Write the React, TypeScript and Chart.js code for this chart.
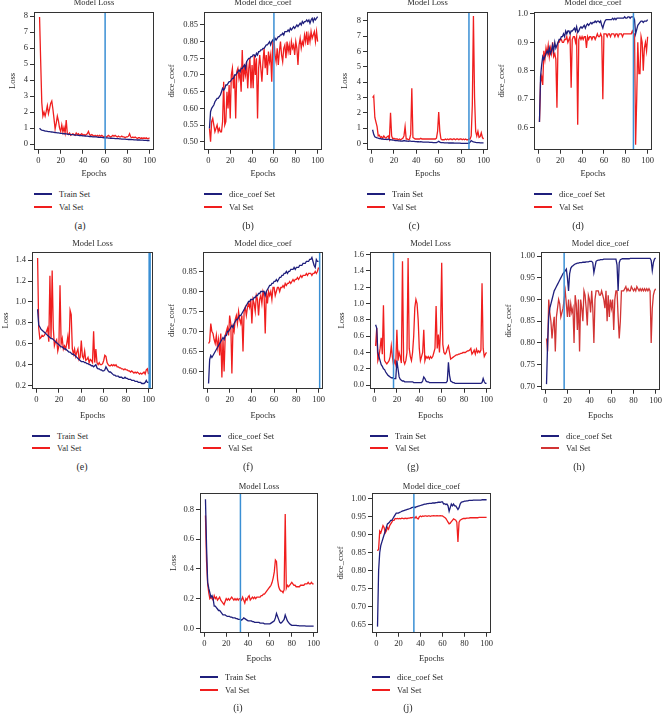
import React, { useEffect, useRef } from "react";
import { Chart, registerables } from "chart.js";

Chart.register(...registerables);

// ---------- data ----------
const epochs: number[] = Array.from({ length: 100 }, (_, i) => i + 1);
const xTicks = [0, 20, 40, 60, 80, 100];

const aTrain = [1.00,0.92,0.88,0.86,0.84,0.82,0.81,0.80,0.79,0.78, 0.77,0.76,0.75,0.74,0.73,0.72,0.71,0.70,0.69,0.68, 0.67,0.66,0.65,0.65,0.64,0.63,0.62,0.61,0.60,0.60, 0.59,0.58,0.57,0.57,0.56,0.55,0.54,0.54,0.53,0.52, 0.52,0.51,0.50,0.50,0.49,0.48,0.48,0.47,0.46,0.46, 0.45,0.45,0.44,0.43,0.43,0.42,0.42,0.41,0.40,0.40, 0.39,0.39,0.38,0.38,0.37,0.37,0.36,0.36,0.35,0.35, 0.34,0.34,0.33,0.33,0.32,0.32,0.31,0.31,0.30,0.30, 0.29,0.29,0.29,0.28,0.28,0.27,0.27,0.27,0.26,0.26, 0.26,0.25,0.25,0.25,0.24,0.24,0.24,0.23,0.23,0.23];
const aVal = [7.95,5.2,2.6,1.75,2.0,1.75,2.05,2.4,1.9,2.2, 2.55,2.7,2.2,1.6,0.95,1.3,1.75,1.45,1.0,0.8, 1.2,0.75,1.05,0.7,1.5,0.65,0.6,0.7,0.55,0.6, 0.65,0.6,0.55,0.7,0.6,0.65,0.55,0.6,0.65,0.55, 0.6,0.55,0.6,0.65,0.8,0.6,0.55,0.6,0.55,0.5, 0.55,0.5,0.55,0.5,0.55,0.5,0.55,0.5,0.45,0.5, 0.45,0.5,0.55,0.5,0.45,0.5,0.55,0.5,0.55,0.5, 0.45,0.5,0.45,0.45,0.5,0.45,0.45,0.4,0.45,0.45, 0.5,0.65,0.45,0.4,0.45,0.4,0.45,0.4,0.35,0.4, 0.4,0.35,0.4,0.35,0.4,0.35,0.4,0.35,0.35,0.4];

const bTrain = [0.54,0.59,0.60,0.605,0.61,0.62,0.625,0.63,0.63,0.635, 0.64,0.65,0.66,0.655,0.66,0.67,0.67,0.675,0.68,0.68, 0.685,0.69,0.69,0.70,0.70,0.705,0.71,0.715,0.71,0.72, 0.72,0.725,0.73,0.72,0.74,0.745,0.75,0.75,0.755,0.755, 0.76,0.76,0.755,0.765,0.76,0.77,0.77,0.775,0.775,0.78, 0.78,0.785,0.79,0.79,0.795,0.80,0.79,0.80,0.805,0.80, 0.81,0.805,0.81,0.815,0.815,0.82,0.82,0.825,0.82,0.83, 0.83,0.83,0.835,0.83,0.84,0.835,0.84,0.845,0.84,0.845, 0.85,0.845,0.85,0.855,0.85,0.86,0.855,0.86,0.86,0.865, 0.86,0.865,0.855,0.865,0.87,0.86,0.87,0.865,0.87,0.875];
const bVal = [0.54,0.50,0.56,0.57,0.55,0.53,0.54,0.55,0.53,0.54, 0.53,0.53,0.56,0.68,0.55,0.56,0.65,0.60,0.67,0.57, 0.70,0.72,0.66,0.70,0.57,0.71,0.72,0.69,0.71,0.65, 0.775,0.68,0.72,0.70,0.74,0.66,0.72,0.75,0.66,0.73, 0.66,0.76,0.70,0.75,0.57,0.72,0.76,0.72,0.68,0.74, 0.78,0.72,0.76,0.70,0.77,0.74,0.76,0.68,0.80,0.81, 0.76,0.74,0.78,0.73,0.77,0.80,0.76,0.74,0.78,0.79, 0.75,0.80,0.77,0.79,0.76,0.80,0.78,0.79,0.76,0.80, 0.78,0.73,0.79,0.81,0.78,0.80,0.79,0.82,0.80,0.83, 0.79,0.82,0.80,0.83,0.81,0.82,0.83,0.80,0.83,0.80];

const cTrain = [0.9,0.6,0.45,0.4,0.38,0.35,0.33,0.32,0.3,0.3, 0.28,0.28,0.27,0.26,0.3,0.25,0.25,0.24,0.22,0.22, 0.2,0.2,0.19,0.18,0.18,0.17,0.16,0.17,0.2,0.18, 0.17,0.16,0.15,0.18,0.16,0.15,0.14,0.14,0.13,0.13, 0.12,0.12,0.11,0.12,0.11,0.1,0.1,0.1,0.09,0.09, 0.09,0.08,0.08,0.08,0.07,0.07,0.07,0.06,0.1,0.15, 0.1,0.07,0.06,0.06,0.05,0.05,0.05,0.05,0.04,0.04, 0.04,0.04,0.04,0.03,0.03,0.03,0.03,0.03,0.03,0.02, 0.02,0.02,0.02,0.02,0.02,0.02,0.02,0.1,0.2,0.15, 0.12,0.1,0.08,0.07,0.06,0.06,0.05,0.05,0.05,0.05];
const cVal = [3.0,3.1,1.7,1.4,1.1,0.5,0.55,0.4,0.45,0.35, 0.5,0.4,0.35,0.45,0.5,0.3,2.0,0.5,0.3,0.35, 0.3,0.3,0.3,0.25,0.3,0.25,0.3,0.35,0.5,1.1, 0.3,0.3,0.25,0.3,0.6,3.6,0.4,0.35,0.3,0.3, 0.3,0.3,0.3,0.35,0.3,0.3,0.3,0.3,0.3,0.3, 0.3,0.3,0.3,0.3,0.3,0.3,0.3,0.35,0.8,2.05, 0.8,0.3,0.25,0.25,0.25,0.3,0.25,0.3,0.25,0.3, 0.3,0.25,0.3,0.3,0.25,0.3,0.3,0.25,0.3,0.3, 0.25,0.3,0.25,0.3,0.25,0.25,0.3,0.3,0.5,2.5, 8.3,3.0,0.8,0.5,0.8,0.4,0.45,0.7,0.4,0.3];

const dTrain = [0.62,0.78,0.82,0.85,0.84,0.85,0.86,0.87,0.86,0.88, 0.86,0.87,0.89,0.87,0.90,0.88,0.89,0.90,0.91,0.91, 0.92,0.92,0.93,0.92,0.94,0.93,0.94,0.94,0.93,0.94, 0.94,0.945,0.95,0.94,0.955,0.935,0.94,0.95,0.955,0.95, 0.955,0.96,0.95,0.96,0.965,0.96,0.965,0.97,0.965,0.97, 0.97,0.975,0.97,0.975,0.975,0.97,0.975,0.96,0.95,0.965, 0.975,0.98,0.98,0.98,0.98,0.98,0.98,0.985,0.98,0.985, 0.98,0.985,0.985,0.985,0.985,0.985,0.985,0.985,0.99,0.985, 0.985,0.99,0.99,0.985,0.99,0.99,0.99,0.98,0.93,0.945, 0.96,0.965,0.97,0.975,0.975,0.97,0.975,0.975,0.975,0.98];
const dVal = [0.62,0.76,0.78,0.75,0.87,0.84,0.88,0.86,0.89,0.85, 0.88,0.86,0.90,0.85,0.86,0.84,0.67,0.90,0.90,0.91, 0.91,0.90,0.90,0.91,0.91,0.92,0.90,0.91,0.92,0.74, 0.91,0.92,0.92,0.90,0.92,0.61,0.91,0.92,0.91,0.92, 0.91,0.92,0.92,0.88,0.92,0.91,0.92,0.92,0.91,0.92, 0.92,0.91,0.92,0.93,0.92,0.92,0.93,0.92,0.70,0.93, 0.93,0.93,0.92,0.93,0.93,0.92,0.93,0.93,0.93,0.92, 0.93,0.93,0.92,0.93,0.93,0.93,0.92,0.93,0.93,0.93, 0.93,0.93,0.93,0.93,0.93,0.94,0.93,0.93,0.54,0.70, 0.90,0.79,0.79,0.92,0.90,0.80,0.88,0.90,0.87,0.92];

const eTrain = [0.93,0.78,0.76,0.74,0.73,0.72,0.71,0.70,0.69,0.68, 0.67,0.66,0.65,0.65,0.64,0.63,0.62,0.61,0.60,0.59, 0.58,0.57,0.57,0.56,0.55,0.55,0.54,0.53,0.52,0.52, 0.51,0.50,0.50,0.49,0.48,0.47,0.46,0.45,0.44,0.43, 0.43,0.43,0.42,0.42,0.41,0.41,0.40,0.40,0.39,0.39, 0.38,0.39,0.40,0.37,0.36,0.36,0.35,0.35,0.34,0.34, 0.35,0.38,0.36,0.34,0.33,0.33,0.32,0.31,0.30,0.30, 0.29,0.29,0.29,0.28,0.28,0.28,0.27,0.27,0.28,0.27, 0.27,0.26,0.26,0.26,0.25,0.25,0.25,0.24,0.24,0.24, 0.23,0.23,0.23,0.22,0.22,0.22,0.23,0.25,0.23,0.23];
const eVal = [1.42,0.75,0.65,0.66,0.68,0.67,0.68,0.70,0.72,0.75, 0.62,1.25,0.65,1.30,0.75,0.58,0.62,0.64,0.53,0.58, 1.16,0.60,0.65,0.55,0.58,0.55,0.60,0.67,0.55,0.92, 0.88,0.55,0.50,0.55,0.48,0.52,0.55,0.45,0.47,0.63, 0.48,0.46,0.53,0.44,0.45,0.47,0.42,0.45,0.44,0.42, 0.72,0.42,0.55,0.42,0.40,0.42,0.40,0.40,0.41,0.44, 0.49,0.48,0.42,0.40,0.39,0.39,0.40,0.39,0.40,0.39, 0.40,0.38,0.38,0.37,0.37,0.36,0.36,0.35,0.36,0.35, 0.35,0.34,0.34,0.33,0.34,0.33,0.32,0.33,0.32,0.33, 0.32,0.31,0.32,0.31,0.32,0.33,0.31,0.35,0.36,0.31];

const fTrain = [0.57,0.63,0.64,0.635,0.64,0.645,0.65,0.655,0.66,0.665, 0.67,0.675,0.68,0.685,0.68,0.69,0.69,0.70,0.70,0.705, 0.71,0.715,0.71,0.72,0.725,0.73,0.73,0.735,0.74,0.74, 0.745,0.75,0.755,0.76,0.765,0.77,0.775,0.775,0.78,0.78, 0.78,0.785,0.785,0.79,0.79,0.795,0.795,0.80,0.80,0.80, 0.80,0.79,0.80,0.805,0.81,0.815,0.815,0.82,0.82,0.825, 0.825,0.83,0.825,0.83,0.835,0.835,0.84,0.84,0.845,0.845, 0.85,0.845,0.85,0.85,0.855,0.855,0.855,0.86,0.855,0.86, 0.86,0.86,0.865,0.865,0.865,0.87,0.87,0.87,0.875,0.875, 0.875,0.88,0.88,0.885,0.875,0.865,0.86,0.88,0.875,0.875];
const fVal = [0.67,0.675,0.72,0.70,0.695,0.68,0.67,0.69,0.66,0.68, 0.64,0.695,0.585,0.68,0.60,0.69,0.70,0.71,0.69,0.74, 0.72,0.595,0.71,0.70,0.73,0.74,0.72,0.75,0.73,0.72, 0.74,0.65,0.75,0.76,0.74,0.76,0.77,0.76,0.78,0.72, 0.78,0.77,0.75,0.79,0.78,0.74,0.78,0.79,0.77,0.80, 0.79,0.695,0.80,0.77,0.80,0.79,0.80,0.78,0.81,0.81, 0.79,0.80,0.81,0.81,0.80,0.81,0.81,0.815,0.81,0.82, 0.815,0.82,0.82,0.825,0.82,0.825,0.83,0.825,0.83,0.83, 0.835,0.83,0.835,0.84,0.835,0.84,0.84,0.84,0.845,0.84, 0.845,0.845,0.845,0.84,0.845,0.845,0.85,0.845,0.85,0.86];

const gTrain = [0.74,0.70,0.40,0.35,0.30,0.25,0.23,0.20,0.19,0.16, 0.14,0.12,0.11,0.10,0.09,0.09,0.08,0.08,0.08,0.30, 0.20,0.10,0.07,0.06,0.05,0.05,0.04,0.04,0.04,0.04, 0.04,0.04,0.04,0.04,0.03,0.03,0.03,0.03,0.03,0.03, 0.03,0.03,0.05,0.10,0.08,0.05,0.04,0.04,0.03,0.03, 0.03,0.03,0.03,0.03,0.03,0.03,0.03,0.03,0.03,0.03, 0.03,0.03,0.03,0.03,0.05,0.28,0.12,0.05,0.04,0.03, 0.03,0.02,0.02,0.02,0.02,0.02,0.02,0.02,0.02,0.02, 0.02,0.02,0.02,0.02,0.02,0.02,0.02,0.02,0.02,0.02, 0.02,0.02,0.02,0.02,0.02,0.03,0.08,0.04,0.02,0.02];
const gVal = [0.48,0.70,0.30,0.35,0.45,0.58,0.38,0.98,0.30,0.28, 0.26,0.28,0.30,0.35,0.48,0.35,0.25,0.30,0.25,0.68, 0.30,0.40,0.35,0.27,1.52,0.30,0.26,0.30,0.40,1.56, 0.45,0.35,0.30,0.40,0.60,0.95,1.05,1.00,0.80,0.45, 0.30,0.35,0.40,0.68,0.30,0.35,0.33,0.35,0.32,0.35, 0.33,0.35,0.40,0.45,0.97,0.45,0.62,0.40,0.70,1.50, 0.50,0.40,0.38,0.40,0.45,0.48,0.40,0.32,0.33,0.34, 0.35,0.36,0.37,0.37,0.38,0.38,0.39,0.39,0.40,0.40, 0.40,0.41,0.42,0.42,0.43,0.45,0.38,0.40,0.43,0.38, 0.44,0.40,0.42,0.40,0.43,1.25,0.45,0.35,0.38,0.40];

const hTrain = [0.705,0.80,0.86,0.88,0.89,0.90,0.91,0.92,0.925,0.93, 0.935,0.94,0.945,0.95,0.955,0.96,0.963,0.966,0.97,0.95, 0.92,0.96,0.972,0.976,0.978,0.98,0.982,0.983,0.984,0.984, 0.985,0.985,0.985,0.986,0.986,0.986,0.987,0.987,0.987,0.988, 0.988,0.988,0.985,0.962,0.975,0.988,0.99,0.991,0.991,0.992, 0.992,0.992,0.993,0.993,0.993,0.993,0.993,0.993,0.993,0.993, 0.993,0.993,0.993,0.993,0.98,0.92,0.985,0.992,0.993,0.994, 0.994,0.994,0.994,0.994,0.994,0.994,0.995,0.995,0.995,0.995, 0.995,0.995,0.995,0.995,0.995,0.995,0.995,0.995,0.995,0.995, 0.995,0.995,0.995,0.995,0.995,0.99,0.967,0.985,0.993,0.996];
const hVal = [0.81,0.78,0.90,0.87,0.85,0.81,0.84,0.86,0.78,0.86, 0.88,0.90,0.89,0.86,0.87,0.88,0.90,0.92,0.89,0.86, 0.90,0.86,0.89,0.87,0.88,0.80,0.91,0.89,0.83,0.90, 0.78,0.90,0.88,0.85,0.92,0.91,0.88,0.84,0.91,0.90, 0.87,0.92,0.88,0.80,0.90,0.92,0.92,0.92,0.91,0.91, 0.92,0.91,0.90,0.88,0.92,0.85,0.91,0.86,0.90,0.88, 0.90,0.83,0.90,0.92,0.92,0.86,0.81,0.85,0.92,0.92, 0.92,0.925,0.93,0.92,0.925,0.92,0.92,0.93,0.925,0.92, 0.925,0.92,0.93,0.925,0.92,0.925,0.92,0.925,0.92,0.925, 0.92,0.925,0.92,0.925,0.92,0.80,0.88,0.91,0.92,0.925];

const iTrain = [0.87,0.55,0.31,0.27,0.24,0.21,0.22,0.20,0.15,0.15, 0.14,0.13,0.12,0.12,0.11,0.10,0.09,0.09,0.09,0.085, 0.08,0.08,0.08,0.075,0.075,0.07,0.07,0.07,0.065,0.065, 0.06,0.06,0.06,0.055,0.06,0.07,0.065,0.06,0.055,0.05, 0.05,0.05,0.05,0.045,0.045,0.04,0.04,0.04,0.04,0.04, 0.035,0.035,0.035,0.035,0.03,0.03,0.03,0.03,0.03,0.03, 0.035,0.04,0.045,0.05,0.07,0.10,0.08,0.06,0.04,0.035, 0.04,0.05,0.06,0.09,0.07,0.05,0.04,0.03,0.025,0.02, 0.02,0.02,0.02,0.02,0.018,0.018,0.017,0.017,0.016,0.016, 0.016,0.016,0.015,0.015,0.015,0.015,0.015,0.015,0.015,0.015];
const iVal = [0.76,0.45,0.30,0.24,0.20,0.21,0.20,0.19,0.22,0.20, 0.21,0.19,0.20,0.21,0.19,0.18,0.17,0.16,0.18,0.20, 0.19,0.20,0.19,0.20,0.21,0.20,0.19,0.20,0.19,0.20, 0.19,0.20,0.20,0.19,0.21,0.19,0.17,0.20,0.19,0.21, 0.22,0.19,0.20,0.21,0.20,0.21,0.20,0.21,0.21,0.21, 0.21,0.22,0.22,0.23,0.23,0.24,0.25,0.26,0.27,0.28, 0.29,0.31,0.34,0.38,0.46,0.45,0.33,0.28,0.26,0.25, 0.25,0.24,0.26,0.77,0.27,0.29,0.28,0.29,0.30,0.31, 0.30,0.29,0.29,0.28,0.28,0.28,0.28,0.29,0.29,0.29, 0.29,0.30,0.30,0.30,0.31,0.30,0.30,0.31,0.30,0.30];

const jTrain = [0.645,0.80,0.85,0.87,0.88,0.89,0.90,0.91,0.92,0.93, 0.932,0.935,0.94,0.94,0.945,0.95,0.955,0.96,0.96,0.96, 0.962,0.963,0.965,0.966,0.967,0.968,0.969,0.97,0.971,0.972, 0.973,0.975,0.976,0.977,0.975,0.977,0.978,0.979,0.98,0.981, 0.982,0.983,0.984,0.985,0.985,0.986,0.986,0.987,0.987,0.987, 0.988,0.988,0.988,0.989,0.989,0.99,0.99,0.99,0.991,0.991, 0.985,0.986,0.984,0.985,0.98,0.965,0.975,0.985,0.98,0.985, 0.98,0.98,0.975,0.97,0.975,0.985,0.99,0.991,0.992,0.993, 0.993,0.994,0.994,0.995,0.995,0.995,0.995,0.996,0.996,0.996, 0.996,0.996,0.996,0.996,0.996,0.997,0.997,0.997,0.997,0.997];
const jVal = [0.855,0.86,0.91,0.905,0.915,0.925,0.92,0.905,0.91,0.92, 0.915,0.925,0.93,0.935,0.94,0.94,0.945,0.944,0.945,0.944, 0.945,0.944,0.946,0.945,0.944,0.946,0.945,0.945,0.946,0.946, 0.947,0.947,0.948,0.948,0.946,0.95,0.945,0.944,0.95,0.952, 0.95,0.952,0.951,0.952,0.952,0.951,0.952,0.952,0.951,0.952, 0.952,0.953,0.952,0.952,0.953,0.952,0.952,0.953,0.952,0.952, 0.95,0.948,0.945,0.94,0.935,0.93,0.932,0.936,0.94,0.944, 0.942,0.94,0.935,0.88,0.935,0.94,0.942,0.944,0.945,0.945, 0.945,0.946,0.946,0.946,0.947,0.947,0.947,0.947,0.947,0.947, 0.947,0.947,0.948,0.948,0.948,0.948,0.948,0.948,0.948,0.948];

// tick values
const ticksLossA = [0, 1, 2, 3, 4, 5, 6, 7, 8];
const ticksDiceB = [0.5, 0.55, 0.6, 0.65, 0.7, 0.75, 0.8, 0.85];
const ticksLossC = [0, 1, 2, 3, 4, 5, 6, 7, 8];
const ticksDiceD = [0.6, 0.7, 0.8, 0.9, 1.0];
const ticksLossE = [0.2, 0.4, 0.6, 0.8, 1.0, 1.2, 1.4];
const ticksDiceF = [0.6, 0.65, 0.7, 0.75, 0.8, 0.85];
const ticksLossG = [0, 0.2, 0.4, 0.6, 0.8, 1.0, 1.2, 1.4, 1.6];
const ticksDiceH = [0.7, 0.75, 0.8, 0.85, 0.9, 0.95, 1.0];
const ticksLossI = [0, 0.2, 0.4, 0.6, 0.8];
const ticksDiceJ = [0.65, 0.7, 0.75, 0.8, 0.85, 0.9, 0.95, 1.0];

// best-epoch markers
const vlines = { a: 60, b: 60, c: 87, d: 87, e: 101, f: 101, g: 17, h: 17, i: 33, j: 34 };

// ---------- panel definitions ----------
type Spec = {
  key: string; caption: string; title: string; yLabel: string; trainLabel: string;
  train: number[]; val: number[]; vline: number; yTicks: number[]; yDec: number;
  yMin: number; yMax: number;
};

const specs: Spec[] = [
  { key: "a", caption: "(a)", title: "Model Loss", yLabel: "Loss", trainLabel: "Train Set", train: aTrain, val: aVal, vline: vlines.a, yTicks: ticksLossA, yDec: 0, yMin: -0.35, yMax: 8.25 },
  { key: "b", caption: "(b)", title: "Model dice_coef", yLabel: "dice_coef", trainLabel: "dice_coef Set", train: bTrain, val: bVal, vline: vlines.b, yTicks: ticksDiceB, yDec: 2, yMin: 0.476, yMax: 0.888 },
  { key: "c", caption: "(c)", title: "Model Loss", yLabel: "Loss", trainLabel: "Train Set", train: cTrain, val: cVal, vline: vlines.c, yTicks: ticksLossC, yDec: 0, yMin: -0.4, yMax: 8.55 },
  { key: "d", caption: "(d)", title: "Model dice_coef", yLabel: "dice_coef", trainLabel: "dice_coef Set", train: dTrain, val: dVal, vline: vlines.d, yTicks: ticksDiceD, yDec: 1, yMin: 0.522, yMax: 1.006 },
  { key: "e", caption: "(e)", title: "Model Loss", yLabel: "Loss", trainLabel: "Train Set", train: eTrain, val: eVal, vline: vlines.e, yTicks: ticksLossE, yDec: 1, yMin: 0.17, yMax: 1.475 },
  { key: "f", caption: "(f)", title: "Model dice_coef", yLabel: "dice_coef", trainLabel: "dice_coef Set", train: fTrain, val: fVal, vline: vlines.f, yTicks: ticksDiceF, yDec: 2, yMin: 0.557, yMax: 0.898 },
  { key: "g", caption: "(g)", title: "Model Loss", yLabel: "Loss", trainLabel: "Train Set", train: gTrain, val: gVal, vline: vlines.g, yTicks: ticksLossG, yDec: 1, yMin: -0.045, yMax: 1.63 },
  { key: "h", caption: "(h)", title: "Model dice_coef", yLabel: "dice_coef", trainLabel: "dice_coef Set", train: hTrain, val: hVal, vline: vlines.h, yTicks: ticksDiceH, yDec: 2, yMin: 0.692, yMax: 1.009 },
  { key: "i", caption: "(i)", title: "Model Loss", yLabel: "Loss", trainLabel: "Train Set", train: iTrain, val: iVal, vline: vlines.i, yTicks: ticksLossI, yDec: 1, yMin: -0.03, yMax: 0.91 },
  { key: "j", caption: "(j)", title: "Model dice_coef", yLabel: "dice_coef", trainLabel: "dice_coef Set", train: jTrain, val: jVal, vline: vlines.j, yTicks: ticksDiceJ, yDec: 2, yMin: 0.628, yMax: 1.015 },
];

// ---------- layout (pixels) ----------
type Lay = { L: number; T: number; R: number; B: number; titleY: number; epochY: number; yTitleX: number; legY: [number, number]; cap: [number, number] };
const layout: Record<string, Lay> = {
  a: { L: 34, T: 12, R: 154, B: 150, titleY: 3, epochY: 174, yTitleX: 13, legY: [194, 207], cap: [80, 226] },
  b: { L: 204, T: 12, R: 322, B: 150, titleY: 3, epochY: 174, yTitleX: 172, legY: [194, 207], cap: [248, 226] },
  c: { L: 367, T: 12, R: 488, B: 150, titleY: 3, epochY: 174, yTitleX: 345, legY: [194, 207], cap: [414, 226] },
  d: { L: 534, T: 12, R: 652, B: 150, titleY: 3, epochY: 174, yTitleX: 502, legY: [194, 207], cap: [578, 226] },
  e: { L: 32, T: 252, R: 153, B: 389, titleY: 244, epochY: 416, yTitleX: 6, legY: [436, 448], cap: [82, 467] },
  f: { L: 203, T: 252, R: 323, B: 389, titleY: 244, epochY: 416, yTitleX: 172, legY: [436, 448], cap: [248, 467] },
  g: { L: 370, T: 252, R: 491, B: 389, titleY: 244, epochY: 416, yTitleX: 342, legY: [436, 448], cap: [413, 467] },
  h: { L: 541, T: 252, R: 660, B: 390, titleY: 244, epochY: 416, yTitleX: 509, legY: [436, 448], cap: [579, 467] },
  i: { L: 200, T: 493, R: 318, B: 633, titleY: 487, epochY: 659, yTitleX: 174, legY: [677, 690], cap: [238, 708] },
  j: { L: 372, T: 493, R: 491, B: 633, titleY: 487, epochY: 659, yTitleX: 341, legY: [677, 690], cap: [408, 708] },
};

const FONT = "'Liberation Serif', 'DejaVu Serif', 'Times New Roman', serif";
const FS = 8.5;
const TEXT = "#2a2a2a";
const NAVY = "#1f1f7c";
const RED = "#f01e1e";
const VCOL = "#3a8fd4";
const YW = 42;
const PR = 12;

const framePlugin = {
  id: "frame",
  afterDatasetsDraw(chart: any, _args: any, opts: any) {
    const { ctx, chartArea, scales } = chart;
    const { left, top, right, bottom } = chartArea;
    ctx.save();
    const px = scales.x.getPixelForValue(opts.vline);
    ctx.strokeStyle = VCOL;
    ctx.lineWidth = opts.vwidth || 1.5;
    ctx.beginPath();
    ctx.moveTo(px, top);
    ctx.lineTo(px, bottom);
    ctx.stroke();
    ctx.strokeStyle = "#333";
    ctx.lineWidth = 1;
    ctx.strokeRect(Math.round(left) + 0.5, Math.round(top) + 0.5, Math.round(right - left) - 1, Math.round(bottom - top) - 1);
    ctx.restore();
  },
};

function Panel({ s }: { s: Spec }) {
  const ref = useRef<HTMLCanvasElement | null>(null);
  const lay = layout[s.key];
  const canvasLeft = lay.L - YW;
  const canvasTop = lay.titleY - FS / 2;
  const width = lay.R + PR - canvasLeft;
  const xH = lay.epochY - lay.B + FS / 2;
  const height = lay.B + xH + 2 - canvasTop;
  const titlePadBottom = Math.max(0, lay.T - canvasTop - FS);
  const yTitlePad = Math.max(0, lay.yTitleX - canvasLeft - FS / 2);
  const valColor = s.key === "h" ? "#d23434" : RED;

  useEffect(() => {
    if (!ref.current) return;
    const font = { family: FONT, size: FS, lineHeight: 1 };
    const chart = new Chart(ref.current, {
      type: "line",
      data: {
        datasets: [
          { label: s.trainLabel, data: epochs.map((e, i) => ({ x: e, y: s.train[i] })), borderColor: NAVY, borderWidth: 1.3, pointRadius: 0, tension: 0, fill: false },
          { label: "Val Set", data: epochs.map((e, i) => ({ x: e, y: s.val[i] })), borderColor: valColor, borderWidth: 1.3, pointRadius: 0, tension: 0, fill: false },
        ],
      },
      options: {
        responsive: false,
        animation: false,
        devicePixelRatio: 1,
        layout: { padding: { left: 0, top: 0, right: PR, bottom: 2 } },
        plugins: {
          legend: { display: false },
          tooltip: { enabled: false },
          title: { display: true, text: s.title, fullSize: false, color: TEXT, font: { ...font, weight: "normal" }, padding: { top: 0, bottom: titlePadBottom } },
          frame: { vline: s.vline, vwidth: s.key === "e" ? 2.5 : 1.5 },
        } as any,
        scales: {
          x: {
            type: "linear",
            min: -4,
            max: 104,
            afterBuildTicks: (sc: any) => { sc.ticks = xTicks.map((v) => ({ value: v })); },
            afterFit: (sc: any) => { sc.height = xH; },
            grid: { display: true, drawOnChartArea: false, drawTicks: true, tickLength: 4, color: "#333" },
            border: { display: false },
            ticks: { font, color: TEXT, padding: 3, autoSkip: false, maxRotation: 0, callback: (v: any) => String(v) },
            title: { display: true, text: "Epochs", color: TEXT, font, padding: { top: 0, bottom: 0 } },
          },
          y: {
            type: "linear",
            min: s.yMin,
            max: s.yMax,
            afterBuildTicks: (sc: any) => { sc.ticks = s.yTicks.map((v) => ({ value: v })); },
            afterFit: (sc: any) => { sc.width = YW; },
            grid: { display: true, drawOnChartArea: false, drawTicks: true, tickLength: 4, color: "#333" },
            border: { display: false },
            ticks: { font, color: TEXT, padding: 2, autoSkip: false, callback: (v: any) => Number(v).toFixed(s.yDec) },
            title: { display: true, text: s.yLabel, color: TEXT, font, padding: { top: yTitlePad, bottom: 0 } },
          },
        },
      },
      plugins: [framePlugin],
    } as any);
    return () => chart.destroy();
  }, []);

  const legendItems: [string, string, number][] = [
    [s.trainLabel, NAVY, lay.legY[0]],
    ["Val Set", valColor, lay.legY[1]],
  ];

  return (
    <>
      <canvas ref={ref} width={width} height={height} style={{ position: "absolute", left: canvasLeft, top: canvasTop, width, height }} />
      {legendItems.map(([label, color, y]) => (
        <React.Fragment key={label}>
          <div style={{ position: "absolute", left: lay.L, top: y - 0.75, width: 18, height: 1.5, background: color }} />
          <div style={{ position: "absolute", left: lay.L + 25, top: y - 6, height: 12, lineHeight: "12px", fontFamily: FONT, fontSize: FS, color: TEXT, whiteSpace: "nowrap" }}>{label}</div>
        </React.Fragment>
      ))}
      <div style={{ position: "absolute", left: lay.cap[0] - 20, top: lay.cap[1] - 7, width: 40, height: 14, lineHeight: "14px", textAlign: "center", fontFamily: FONT, fontSize: 10, color: TEXT }}>{s.caption}</div>
    </>
  );
}

export default function App() {
  return (
    <div style={{ position: "absolute", left: 0, top: 0, width: 662, height: 716, background: "#fff", overflow: "hidden" }}>
      {specs.map((s) => (
        <Panel key={s.key} s={s} />
      ))}
    </div>
  );
}
